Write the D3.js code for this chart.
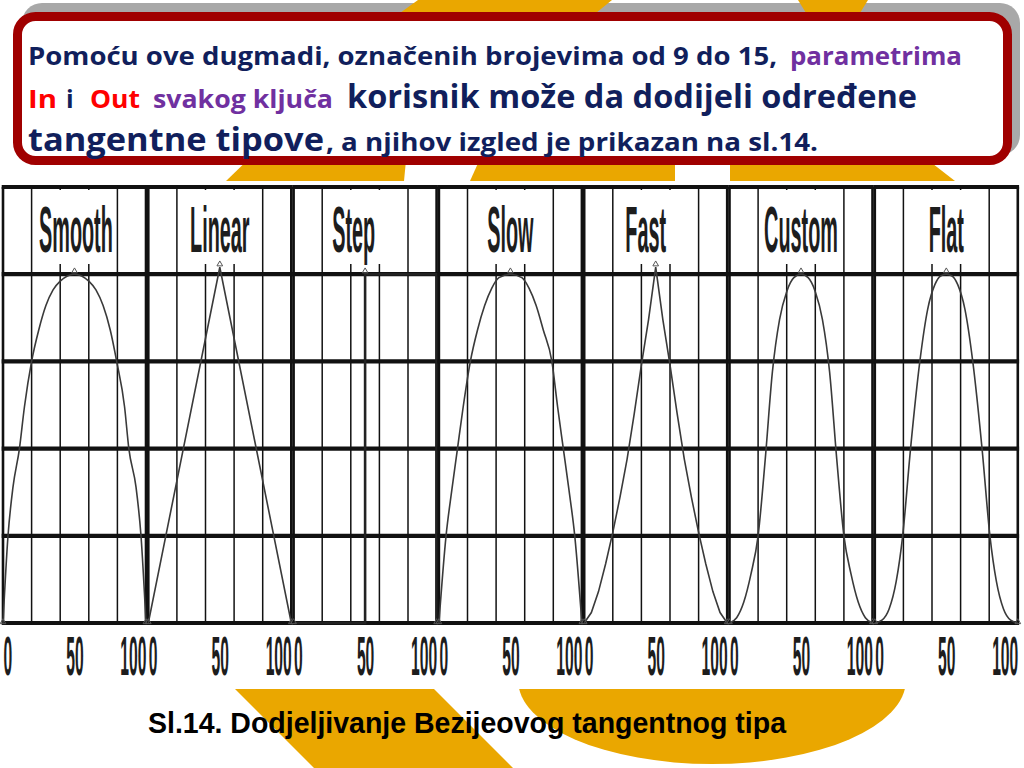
<!DOCTYPE html>
<html>
<head>
<meta charset="utf-8">
<script src="https://cdn.jsdelivr.net/npm/d3@7"></script>
<style>
html,body{margin:0;padding:0;background:#fff;overflow:hidden}
svg{display:block}
</style>
</head>
<body>
<svg id="chart" width="1024" height="768"></svg>
<script>
// ---------------- data ----------------
const panelNames = ["Smooth", "Linear", "Step", "Slow", "Fast", "Custom", "Flat"];
const labelCenters = [51, 50, 42, 50, 43, 50, 50];
const xTickValues = [0, 50, 100];
const xGridValues = [0, 20, 40, 60, 80, 100];
const yGridValues = [0, 0.25, 0.5, 0.75, 1, 1.25];

const smoothPts = [[0,0],[3.5,0.25],[7,0.39],[11.5,0.5],[15,0.62],[20,0.75],[25,0.84],[30,0.91],[35,0.955],[40,0.98],[45,0.995],[50,1],
  [55,0.995],[60,0.98],[65,0.955],[70,0.91],[75,0.84],[79.5,0.75],[85,0.62],[88,0.5],[93,0.39],[96.5,0.25],[100,0]];
const linearPts = [[0,0],[50,1.02],[100,0]];
const stepPts = [[0,0],[50,1],[100,0]];
const slowPts = [[0,0],[5,0.25],[9,0.38],[13,0.5],[17,0.62],[22,0.75],[27,0.84],[32,0.91],[37,0.96],[42,0.99],[50,1],
  [58,0.99],[63,0.96],[68,0.91],[73,0.84],[79,0.75],[83,0.62],[87,0.5],[91,0.38],[95,0.25],[100,0]];
const fastPts = [[0,0],[5,0.03],[10,0.09],[15,0.17],[20,0.26],[25,0.36],[30,0.47],[35,0.6],[40,0.74],[45,0.87],[50,1.02],
  [55,0.87],[60,0.74],[65,0.6],[70,0.47],[75,0.36],[80,0.26],[85,0.17],[90,0.09],[95,0.03],[100,0]];
const customPts = [[0,0],[5,0.015],[10,0.06],[15,0.14],[20,0.25],[25,0.47],[30,0.72],[35,0.87],[40,0.95],[45,0.99],[50,1],
  [55,0.99],[60,0.95],[65,0.87],[70,0.72],[75,0.47],[80,0.25],[85,0.14],[90,0.06],[95,0.015],[100,0]];
const flatPts = [[0,0],[5,0.008],[10,0.04],[15,0.12],[19.5,0.25],[25,0.5],[31.5,0.75],[37,0.9],[42,0.97],[46,0.995],[50,1],
  [54,0.995],[58,0.97],[63,0.9],[68.5,0.75],[75,0.5],[80.5,0.25],[85,0.12],[90,0.04],[95,0.008],[100,0]];
const curveData = [smoothPts, linearPts, stepPts, slowPts, fastPts, customPts, flatPts];
const keyValues = [0, 50, 100];

const headerTexts = [
  ["Pomoću ove dugmadi, označenih brojevima od 9 do 15,", "parametrima"],
  ["In", "i", "Out", "svakog ključa", "korisnik može da dodijeli određene"],
  ["tangentne tipove", ", a njihov izgled je prikazan na sl.14."]
];
const captionText = "Sl.14. Dodjeljivanje Bezijeovog tangentnog tipa";

// ---------------- styling / layout ----------------
const NAVY = "#111f5c", PURPLE = "#7030a0", RED = "#ff0000", ORANGE = "#eaa700";
const SMALL = 25, BIG = 32;
const headerStyle = [
  [{c:NAVY,s:SMALL,x:28,w:749},{c:PURPLE,s:SMALL,x:790,w:172}],
  [{c:RED,s:SMALL,x:28,w:29},{c:NAVY,s:SMALL,x:66,w:0},{c:RED,s:SMALL,x:90,w:50},{c:PURPLE,s:SMALL,x:153,w:180},{c:NAVY,s:BIG,x:347,w:570}],
  [{c:NAVY,s:BIG,x:28,w:296},{c:NAVY,s:SMALL,x:326,w:492}]
];
const lineBaselines = [65, 108, 151];
const curveKinds = [d3.curveMonotoneX, d3.curveLinear, d3.curveStepAfter, d3.curveMonotoneX, d3.curveLinear, d3.curveMonotoneX, d3.curveMonotoneX];

const svg = d3.select("#chart");

// ---------- decorative background ----------
const bg = svg.append("g");
bg.append("rect").attr("x",22).attr("y",3).attr("width",998).attr("height",152).attr("rx",20).attr("fill","#a8a8a8");
const orangePolys = [
  [[418,0],[612,0],[596,13],[400,13]],
  [[798,0],[868,0],[860,13],[806,13]],
  [[258,150],[407,150],[404,181],[226,181]],
  [[484,150],[675,150],[675,181],[470,181]],
  [[730,150],[915,150],[955,181],[730,181]],
  [[226,680],[425,680],[513,768],[314,768]]
];
bg.selectAll("polygon.or").data(orangePolys).join("polygon")
  .attr("points", d => d.map(p => p.join(",")).join(" "))
  .attr("fill", ORANGE);
bg.append("path").attr("d","M518,680 L906,680 A 194 84 0 0 1 712,764 A 194 84 0 0 1 518,680 Z").attr("fill",ORANGE);

// header box
bg.append("rect").attr("x",17.5).attr("y",16.5).attr("width",990).attr("height",144).attr("rx",18)
  .attr("fill","#fff").attr("stroke","#a00000").attr("stroke-width",9);

const header = svg.append("g").attr("font-family","'Open Sans', 'DejaVu Sans', sans-serif").attr("font-weight","bold");
headerTexts.forEach((line, li) => {
  line.forEach((t, ti) => {
    const st = headerStyle[li][ti];
    const el = header.append("text").attr("x", st.x).attr("y", lineBaselines[li])
      .attr("font-size", st.s).attr("fill", st.c).text(t);
    if (st.w > 0) el.attr("textLength", st.w).attr("lengthAdjust", "spacingAndGlyphs");
  });
});

// ---------- chart image area ----------
svg.append("rect").attr("x",0).attr("y",181).attr("width",1024).attr("height",508).attr("fill","#fff");

const y = d3.scaleLinear().domain([0, 1.25]).range([623, 187]);
const panelX0 = 3, panelStep = 145.3, panelW = 143;

panelNames.forEach((name, i) => {
  const px = panelX0 + i * panelStep;
  const x = d3.scaleLinear().domain([0, 100]).range([px, px + panelW]);
  const g = svg.append("g");

  // vertical grid
  g.selectAll("line.v").data(xGridValues).join("line")
    .attr("x1", d => x(d)).attr("x2", d => x(d))
    .attr("y1", y(1.25)).attr("y2", y(0))
    .attr("stroke", "#111").attr("stroke-width", d => (d === 0 || d === 100) ? 2.6 : 1.5);

  // label box + label
  g.append("rect").attr("x", x(25)).attr("y", 190).attr("width", x(75) - x(25)).attr("height", 74).attr("fill", "#fff");
  g.append("g").attr("transform", `translate(${x(labelCenters[i])},252) scale(0.31,1)`)
    .append("text").attr("text-anchor", "middle").attr("font-family", "'Liberation Sans', Arial, sans-serif")
    .attr("font-weight", "bold").attr("font-size", 64).attr("fill", "#1d1d1d").text(name);

  // horizontal grid
  g.selectAll("line.h").data(yGridValues).join("line")
    .attr("x1", x(0) - 1.3).attr("x2", x(100) + 1.3)
    .attr("y1", d => y(d)).attr("y2", d => y(d))
    .attr("stroke", "#111").attr("stroke-width", 4.2);

  // curve
  const line = d3.line().x(d => x(d[0])).y(d => y(d[1])).curve(curveKinds[i]);
  g.append("path").datum(curveData[i]).attr("d", line)
    .attr("fill", "none").attr("stroke", i === 2 ? "#222" : "#3a3a3a").attr("stroke-width", i === 2 ? 2.6 : 1.6);

  // key markers
  const pts = curveData[i];
  const keyPts = keyValues.map(k => {
    const p = pts.filter(q => q[0] === k);
    return p.length ? p[p.length - 1] : [k, 0];
  });
  g.selectAll("path.key").data(keyPts).join("path")
    .attr("transform", d => `translate(${x(d[0])},${y(d[1]) - (d[1] > 0 ? 3 : 1)})`)
    .attr("d", d3.symbol(d3.symbolTriangle, 14))
    .attr("fill", "none").attr("stroke", "#555").attr("stroke-width", 1);

  // axis ticks
  const ax = g.append("g").attr("transform", "translate(0,675)")
    .call(d3.axisBottom(x).tickValues(xTickValues).tickSize(0).tickPadding(0).tickFormat(d3.format("d")));
  ax.select(".domain").remove();
  ax.selectAll("text")
    .attr("y", 0).attr("dy", 0)
    .attr("text-anchor", d => d === 0 ? "start" : (d === 100 ? "end" : "middle"))
    .attr("transform", "scale(0.28,1)")
    .attr("font-family", "'Liberation Sans', Arial, sans-serif")
    .attr("font-weight", "bold")
    .attr("font-size", 56).attr("fill", "#1d1d1d");
});

// caption
svg.append("text").attr("x", 148).attr("y", 733)
  .attr("font-family", "'Liberation Sans', Arial, sans-serif").attr("font-weight", "bold")
  .attr("font-size", 30).attr("fill", "#000")
  .attr("textLength", 638).attr("lengthAdjust", "spacingAndGlyphs")
  .text(captionText);
</script>
</body>
</html>
